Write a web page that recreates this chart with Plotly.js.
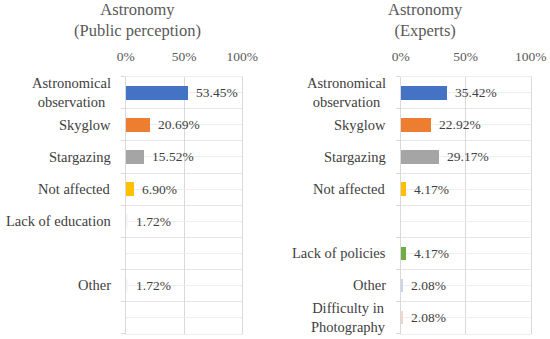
<!DOCTYPE html>
<html>
<head>
<meta charset="utf-8">
<script src="https://cdn.plot.ly/plotly-3.0.1.min.js"></script>
<style>html,body{margin:0;padding:0;background:#fff;}#chart{width:550px;height:339px;}</style>
</head>
<body>
<div id="chart"></div>
<script>
// Shared category slots (top to bottom)
const categories = ["Astronomical<br>observation", "Skyglow", "Stargazing", "Not affected",
  "Lack of education", "Lack of policies", "Other", "Difficulty in<br>Photography"];
// Public perception (%), null = category not present
const publicValues = [53.45, 20.69, 15.52, 6.90, 1.72, null, 1.72, null];
// Experts (%)
const expertValues = [35.42, 22.92, 29.17, 4.17, null, 4.17, 2.08, 2.08];
const publicColors = ["#4472C4", "#ED7D31", "#A5A5A5", "#FFC000", "#f7f7f7", "#ffffff", "#f7f7f7", "#ffffff"];
const expertColors = ["#4472C4", "#ED7D31", "#A5A5A5", "#FFC000", "#ffffff", "#70AD47", "#CDD4EA", "#F3D6C8"];
const xTickVals = [0, 50, 100];
const xTickText = ["0%", "50%", "100%"];
const titles = ["Astronomy<br>(Public perception)", "Astronomy<br>(Experts)"];

const FONT = "Liberation Serif";
const idx = categories.map((_, i) => i);

function barTrace(vals, colors, xa, ya) {
  const xs = [], ys = [], cs = [];
  vals.forEach((v, i) => { if (v !== null) { xs.push(v); ys.push(i); cs.push(colors[i]); } });
  return { type: "bar", orientation: "h", x: xs, y: ys, width: 0.42,
    marker: { color: cs, line: { width: 0 } }, xaxis: xa, yaxis: ya, hoverinfo: "skip" };
}

const data = [
  barTrace(publicValues, publicColors, "x", "y"),
  barTrace(expertValues, expertColors, "x2", "y2")
];

const annotations = [];
function addLabels(vals, xa, ya) {
  vals.forEach((v, i) => {
    if (v === null) return;
    annotations.push({ xref: xa + " domain", yref: ya, x: 0, y: i, xanchor: "right", yanchor: "middle",
      xshift: -13, text: categories[i], showarrow: false, align: "center",
      font: { family: FONT, size: 14.5, color: "#404040" } });
    annotations.push({ xref: xa, yref: ya, x: v, y: i, xanchor: "left", yanchor: "middle",
      xshift: 6, text: v.toFixed(2) + "%", showarrow: false,
      font: { family: FONT, size: 13.5, color: "#404040" } });
  });
}
addLabels(publicValues, "x", "y");
addLabels(expertValues, "x2", "y2");

annotations.push({ xref: "paper", yref: "paper", x: 137 / 550, y: 1, yshift: 2, xanchor: "center", yanchor: "top",
  text: titles[0], showarrow: false, align: "center", font: { family: FONT, size: 16.5, color: "#595959" } });
annotations.push({ xref: "paper", yref: "paper", x: 425 / 550, y: 1, yshift: 2, xanchor: "center", yanchor: "top",
  text: titles[1], showarrow: false, align: "center", font: { family: FONT, size: 16.5, color: "#595959" } });

function xAxis(domain, anchor) {
  return { domain: domain, anchor: anchor, side: "top", range: [0, 100], tickvals: xTickVals, ticktext: xTickText,
    showgrid: true, gridcolor: "#d9d9d9", gridwidth: 1, zeroline: false, showline: true, mirror: true,
    linecolor: "#eeeeee", linewidth: 1, ticks: "", ticklabelstandoff: 9,
    fixedrange: true, tickfont: { family: FONT, size: 13.5, color: "#595959" } };
}
function yAxis(anchor) {
  return { domain: [0.0162, 0.7737], anchor: anchor, range: [7.5, -0.5], tickvals: idx, ticktext: idx.map(() => ""),
    showgrid: true, gridcolor: "#eeeeee", zeroline: false, showline: true, mirror: true,
    linecolor: "#d9d9d9", linewidth: 1, ticks: "",
    minor: { tickmode: "linear", tick0: 0.5, dtick: 1, showgrid: true, gridcolor: "#e6e6e6",
      ticks: "outside", ticklen: 4, tickcolor: "#d9d9d9" },
    fixedrange: true };
}

const layout = {
  width: 550, height: 339, margin: { l: 0, r: 0, t: 0, b: 0 },
  font: { family: FONT },
  paper_bgcolor: "#ffffff", plot_bgcolor: "#ffffff", showlegend: false, bargap: 0,
  xaxis: xAxis([125.7 / 550, 242.3 / 550], "y"),
  yaxis: yAxis("x"),
  xaxis2: xAxis([400.7 / 550, 530.7 / 550], "y2"),
  yaxis2: yAxis("x2"),
  annotations: annotations
};

Plotly.newPlot("chart", data, layout, { staticPlot: true, displayModeBar: false });
</script>
</body>
</html>
